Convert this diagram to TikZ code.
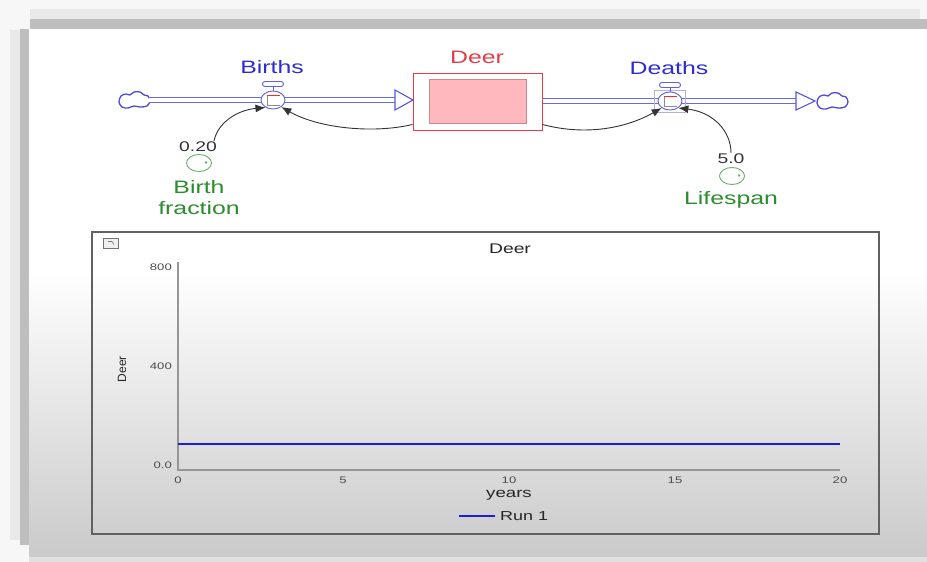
\documentclass[tikz,border=0pt]{standalone}
\usepackage{fontspec}
\setmainfont{Liberation Sans}[FakeStretch=1.38]
\newfontfamily\plainsans{Liberation Sans}
\usetikzlibrary{shapes.geometric,arrows.meta}

\definecolor{flowblue}{RGB}{45,45,210}
\definecolor{pipeblue}{RGB}{105,105,225}
\definecolor{stockred}{RGB}{228,60,70}
\definecolor{stockpink}{RGB}{255,184,190}
\definecolor{stockin}{RGB}{205,135,140}
\definecolor{convgreen}{RGB}{45,140,45}
\definecolor{convline}{RGB}{110,172,110}
\definecolor{axisgray}{RGB}{150,150,150}
\definecolor{runblue}{RGB}{30,30,215}
\definecolor{selblue}{RGB}{175,175,240}
\definecolor{framedark}{RGB}{190,190,190}
\definecolor{framelight}{RGB}{233,233,233}
\definecolor{bgbottom}{RGB}{202,202,202}

\tikzset{
  pipe/.style={draw=pipeblue, line width=1.4pt, double=white, double distance=3.8pt},
  pipehead/.style={draw=pipeblue!70!flowblue, line width=1.1pt, fill=white},
  valve/.style={ellipse, draw=flowblue!75, fill=white, line width=0.9pt, minimum width=24pt, minimum height=18pt, inner sep=0pt},
  conv/.style={ellipse, draw=convline, line width=0.9pt, minimum width=25pt, minimum height=17pt, inner sep=0pt},
  link/.style={draw=black!80, line width=0.9pt, -{Latex[length=10pt,width=8pt]}},
  cloudanchor/.style={ellipse, minimum width=32pt, minimum height=16pt, inner sep=0pt},
  cloudline/.style={draw=flowblue!85, line width=1.3pt, fill=white},
  flowlabel/.style={text=flowblue, font=\fontsize{18}{20}\selectfont, inner sep=1pt},
  convlabel/.style={text=convgreen, font=\fontsize{18}{21}\selectfont, align=center, inner sep=1pt},
  numlabel/.style={text=black!80, font=\fontsize{14}{16}\selectfont, inner sep=1pt},
  ticklabel/.style={text=black!70, font=\fontsize{9.5}{11}\selectfont, inner sep=1pt},
  chartlabel/.style={text=black!85, font=\fontsize{14}{16}\selectfont, inner sep=1pt},
}

\begin{document}
\begin{tikzpicture}[x=1pt,y=-1pt]
% ---------- background / window frame ----------
\useasboundingbox (0,0) rectangle (927,562);
\fill[white!97!black] (0,0) rectangle (927,562);
\fill[framelight] (30,9) rectangle (920,19);
\fill[framedark] (30,19) rectangle (927,29);
\fill[framelight] (10,30) rectangle (20,540);
\fill[framedark] (20,29) rectangle (29,545);
\fill[white] (29,29) rectangle (927,270);
\shade[top color=white, bottom color=bgbottom] (29,270) rectangle (927,557);
\fill[black!12] (29,557) rectangle (927,562);

% ---------- stock and flow diagram ----------
\node[cloudanchor] (lcloud) at (134,100) {};
\node[cloudanchor] (rcloud) at (832,101) {};
\foreach \c in {lcloud,rcloud}{
  \draw[cloudline, shift={(\c.center)}] plot[smooth cycle, tension=0.55] coordinates
    {(-15,2) (-13,-4) (-8,-6) (-4,-5) (0,-8) (6,-8) (10,-5) (14,-4) (16,1) (13,6) (6,7) (0,6) (-6,8) (-12,7)};
}
\node[draw=stockred, line width=1pt, fill=white, minimum width=129pt, minimum height=57pt, inner sep=0pt] (deer) at (477.5,101.5) {};
\node[draw=stockin, line width=0.8pt, fill=stockpink, minimum width=97pt, minimum height=44pt, inner sep=0pt] (deerin) at (477.5,101) {};
\coordinate (inhead) at (395,100);
\coordinate (outhead) at (796,101);

\draw[pipe] ([xshift=-1pt]lcloud.east) -- (inhead);
\draw[pipehead] (395,90) -- (413,100) -- (395,110) -- cycle;
\draw[pipe] (deer.east |- outhead) -- (outhead);
\draw[pipehead] (796,92) -- (815,101) -- (796,110) -- cycle;

% selection square around Deaths valve
\draw[selblue, line width=0.8pt] (654,90) rectangle (685,112);

\node[valve] (births) at (273,100) {};
\node[valve] (deaths) at (670,101) {};

\foreach \v in {births,deaths}{
  \begin{scope}[shift={(\v.center)}]
    \draw[flowblue!75, line width=0.9pt] (0,-9) -- (0,-14);
    \draw[flowblue!75, line width=0.9pt, fill=white, rounded corners=2.4pt] (-10.5,-13.5) rectangle (10.5,-18.5);
    \draw[black!45, line width=0.9pt] (7,-5) -- (-6,-5) -- (-6,5) -- (7,5);
    \draw[red!85, line width=0.9pt] (-6,-5) -- (7,-5);
  \end{scope}
}

\node[flowlabel] (birthslbl) at (272,67) {Births};
\node[flowlabel] (deathslbl) at (669,68) {Deaths};
\node[text=stockred, font=\fontsize{18}{20}\selectfont, inner sep=1pt] (deerlbl) at (477,57) {Deer};

% converters
\node[conv] (bfc) at (199,163) {};
\fill[convline] (206,162.5) circle[radius=1.3pt];
\node[numlabel] (bfv) at (198,147) {0.20};
\node[convlabel] (bfl) at (199,197.5) {Birth\\fraction};

\node[conv] (lsc) at (732,176) {};
\fill[convline] (739,175.5) circle[radius=1.3pt];
\node[numlabel] (lsv) at (731,159) {5.0};
\node[convlabel] (lsl) at (731,200) {Lifespan};

% links
\draw[link] ([xshift=-4pt]bfv.north east) .. controls (218,122) and (238,110) .. (births.225);
\draw[link] ([yshift=6pt]deer.south west) .. controls (372,134) and (318,128) .. (births.-40);
\draw[link] ([yshift=6pt]deer.south east) .. controls (590,137) and (630,126) .. (deaths.220);
\draw[link] (lsv.north) .. controls (731,131) and (713,112) .. (deaths.-40);

% ---------- graph ----------
\node[draw=black!62, line width=1.5pt, minimum width=787pt, minimum height=302pt, inner sep=0pt] (chart) at (485.5,383) {};
\node[draw=black!55, line width=0.8pt, fill=black!6, minimum width=15pt, minimum height=10pt, inner sep=0pt] (icon) at (111,243) {};
\draw[black!55, line width=0.6pt] (icon.center) ++(-3,-1.5) -- ++(4,0) -- ++(2,3);
\node[chartlabel] (ctitle) at (510,249) {Deer};

\coordinate (org) at (178,470);
\coordinate (ytop) at (178,262);
\coordinate (xend) at (840,470);
\draw[axisgray, line width=1.1pt] (ytop) -- (org) -- (xend);

\node[ticklabel, anchor=east] (y800) at (173,267) {800};
\node[ticklabel, anchor=east] (y400) at (173,366) {400};
\node[ticklabel, anchor=east] (y0) at (173,465) {0.0};
\node[text=black!85, font=\plainsans\fontsize{12}{14}\selectfont, rotate=90, inner sep=1pt] (ylab) at (122,369) {Deer};

\node[ticklabel] (x0) at (178,480) {0};
\node[ticklabel] (x5) at (343,480) {5};
\node[ticklabel] (x10) at (509,480) {10};
\node[ticklabel] (x15) at (675,480) {15};
\node[ticklabel] (x20) at (840,480) {20};
\node[chartlabel, font=\fontsize{13.5}{15}\selectfont] (xlab) at (509,495) {years};

\coordinate (run0) at (178,444);
\coordinate (run1) at (840,444);
\draw[runblue, line width=2.5pt] (run0) -- (run1);

\coordinate (leg0) at (459,516);
\coordinate (leg1) at (495,516);
\draw[runblue, line width=2.5pt] (leg0) -- (leg1);
\node[chartlabel, font=\fontsize{13}{15}\selectfont, anchor=west] (legtxt) at (499,516) {Run 1};
\end{tikzpicture}
\end{document}
